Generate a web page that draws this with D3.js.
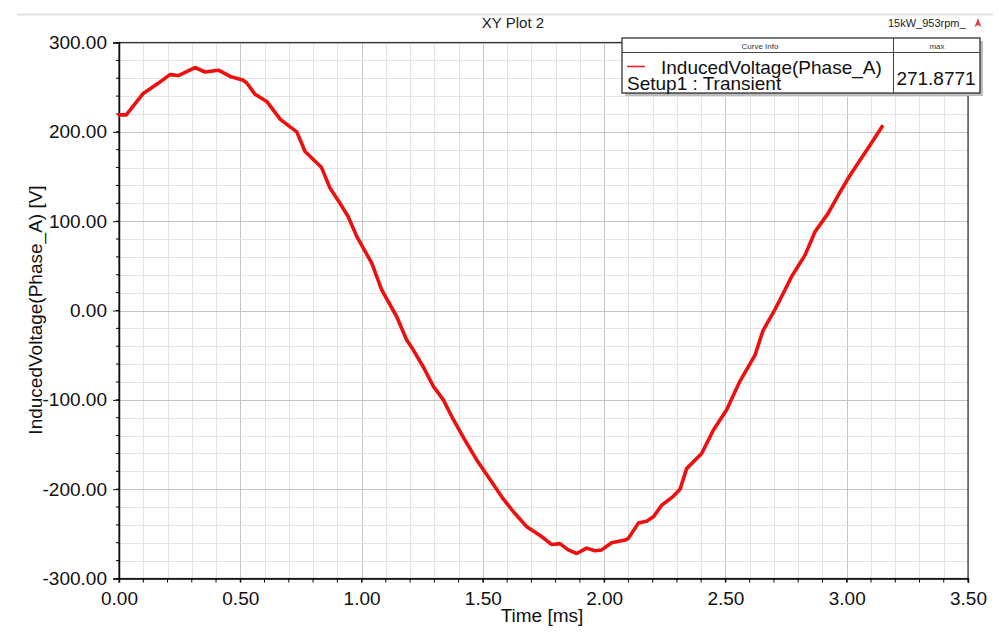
<!DOCTYPE html>
<html>
<head>
<meta charset="utf-8">
<script src="https://cdn.jsdelivr.net/npm/d3@7"></script>
<style>
html,body{margin:0;padding:0;background:#fff;}
svg{display:block;font-family:"Liberation Sans",Arial,sans-serif;}
</style>
</head>
<body>
<svg id="chart" width="1002" height="637"></svg>
<script>
// ---- data ----
const chartTitle = "XY Plot 2";
const projectName = "15kW_953rpm_";
const xLabel = "Time [ms]";
const yLabel = "InducedVoltage(Phase_A) [V]";
const seriesName = "InducedVoltage(Phase_A)";
const seriesSetup = "Setup1 : Transient";
const seriesMax = "271.8771";
const xTicks = [0, 0.5, 1.0, 1.5, 2.0, 2.5, 3.0, 3.5];
const yTicks = [-300, -200, -100, 0, 100, 200, 300];
const times = [0.00,0.03,0.10,0.16,0.21,0.245,0.313,0.355,0.41,0.458,0.51,0.526,0.561,0.609,0.665,0.733,0.767,0.835,0.87,0.911,0.945,0.98,1.042,1.083,1.145,1.186,1.213,1.254,1.296,1.337,1.378,1.426,1.474,1.522,1.584,1.625,1.681,1.742,1.784,1.818,1.852,1.887,1.928,1.962,1.99,2.031,2.086,2.10,2.141,2.175,2.203,2.237,2.285,2.313,2.34,2.402,2.45,2.505,2.56,2.622,2.642,2.656,2.704,2.738,2.773,2.828,2.855,2.869,2.924,2.965,3.006,3.054,3.096,3.146];
const voltages = [219,219,243,254,264,263,272,267,269,262,258,255,242,234,214,200,178,160,137,120,105,83,53,23,-7,-33,-44,-63,-85,-100,-122,-145,-167,-186,-211,-225,-242,-253,-262,-261,-268,-272,-266,-269,-268,-260,-257,-255,-238,-236,-231,-218,-208,-200,-177,-160,-134,-111,-79,-50,-33,-22,1,19,38,62,79,88,109,129,148,168,185,206];

// ---- layout ----
const svg = d3.select("#chart");
const L = 119, R = 968, T = 42.5, B = 578.5;
const x = d3.scaleLinear().domain([0, 3.5]).range([L, R]);
const y = d3.scaleLinear().domain([-300, 300]).range([B, T]);

// header line
svg.append("line").attr("x1", 17).attr("x2", 993).attr("y1", 14.5).attr("y2", 14.5)
  .attr("stroke", "#e4e4e4").attr("stroke-width", 2);
svg.append("text").attr("x", 513).attr("y", 28).attr("text-anchor", "middle")
  .attr("font-size", 15).attr("fill", "#222").text(chartTitle);
svg.append("text").attr("x", 888).attr("y", 27).attr("font-size", 11)
  .attr("fill", "#222").text(projectName);
svg.append("path").attr("d", "M978,18 L981.5,27 L978,25 L974.5,27 Z").attr("fill", "#d84a4a");

// grid
const g = svg.append("g");
const xMinor = d3.range(0, 3.5001, 0.1);
const yMinor = d3.range(-300, 300.001, 20);
g.selectAll(".xmin").data(xMinor).join("line")
  .attr("x1", d => Math.round(x(d)) + 0.5).attr("x2", d => Math.round(x(d)) + 0.5)
  .attr("y1", T).attr("y2", B)
  .attr("stroke", d => Math.abs(d * 2 - Math.round(d * 2)) < 1e-6 ? "#c4c4c4" : "#e3e3e3").attr("stroke-width", 1);
g.selectAll(".ymin").data(yMinor).join("line")
  .attr("x1", L).attr("x2", R)
  .attr("y1", d => Math.round(y(d)) + 0.5).attr("y2", d => Math.round(y(d)) + 0.5)
  .attr("stroke", d => d % 100 === 0 ? "#c4c4c4" : "#e3e3e3").attr("stroke-width", 1);

// frame
svg.append("rect").attr("x", L).attr("y", T).attr("width", R - L).attr("height", B - T)
  .attr("fill", "none").attr("stroke", "#333").attr("stroke-width", 1.2);

// axes
const xAxis = svg.append("g").attr("transform", `translate(0,${B})`)
  .call(d3.axisBottom(x).tickValues(xTicks).tickFormat(d => d.toFixed(2)).tickSize(4).tickPadding(4));
xAxis.append("g").selectAll("line").data(xMinor).join("line")
  .attr("x1", d => x(d)).attr("x2", d => x(d)).attr("y1", 0).attr("y2", 4).attr("stroke", "#000");
const yAxis = svg.append("g").attr("transform", `translate(${L},0)`)
  .call(d3.axisLeft(y).tickValues(yTicks).tickFormat(d => d.toFixed(2)).tickSize(6).tickPadding(6));
yAxis.append("g").selectAll("line").data(yMinor).join("line")
  .attr("x1", -3).attr("x2", 0).attr("y1", d => y(d)).attr("y2", d => y(d)).attr("stroke", "#000");
[xAxis, yAxis].forEach(a => {
  a.selectAll("text").attr("font-size", 19).attr("fill", "#111")
    .attr("font-family", "'Liberation Sans', Arial, sans-serif");
  a.select(".domain").attr("stroke", "#111").attr("stroke-width", 1.5);
  a.selectAll(".tick line").attr("stroke", "#111");
});
xAxis.selectAll(".tick text").attr("dy", "0.95em");

svg.append("text").attr("x", 542).attr("y", 622).attr("text-anchor", "middle")
  .attr("font-size", 19).attr("fill", "#111").text(xLabel);
svg.append("text").attr("transform", `translate(42,310) rotate(-90)`).attr("text-anchor", "middle")
  .attr("font-size", 19).attr("fill", "#111").text(yLabel);

// curve
const pts = times.map((t, i) => [t, voltages[i]]);
svg.append("path").datum(pts)
  .attr("d", d3.line().x(d => x(d[0])).y(d => y(d[1])))
  .attr("fill", "none").attr("stroke", "#ee0f0f").attr("stroke-width", 3.6)
  .attr("stroke-linejoin", "round").attr("stroke-linecap", "round");

// legend
const lg = svg.append("g");
lg.append("rect").attr("x", 625).attr("y", 41).attr("width", 358).attr("height", 55).attr("fill", "#bdbdbd");
lg.append("rect").attr("x", 622).attr("y", 38).attr("width", 358).attr("height", 55)
  .attr("fill", "#fff").attr("stroke", "#222").attr("stroke-width", 1.2);
lg.append("line").attr("x1", 622).attr("x2", 980).attr("y1", 52.5).attr("y2", 52.5).attr("stroke", "#444");
lg.append("line").attr("x1", 893.5).attr("x2", 893.5).attr("y1", 38).attr("y2", 93).attr("stroke", "#444");
lg.append("text").attr("x", 760).attr("y", 49).attr("text-anchor", "middle").attr("font-size", 8).attr("fill", "#333").text("Curve Info");
lg.append("text").attr("x", 937).attr("y", 49).attr("text-anchor", "middle").attr("font-size", 8).attr("fill", "#333").text("max");
lg.append("line").attr("x1", 627).attr("x2", 645).attr("y1", 66.5).attr("y2", 66.5).attr("stroke", "#ee2222").attr("stroke-width", 1.6);
lg.append("text").attr("x", 661).attr("y", 74).attr("font-size", 19).attr("fill", "#111").text(seriesName);
lg.append("text").attr("x", 627).attr("y", 90).attr("font-size", 19).attr("fill", "#111").text(seriesSetup);
lg.append("text").attr("x", 936).attr("y", 85).attr("text-anchor", "middle").attr("font-size", 19).attr("fill", "#111").text(seriesMax);
</script>
</body>
</html>
